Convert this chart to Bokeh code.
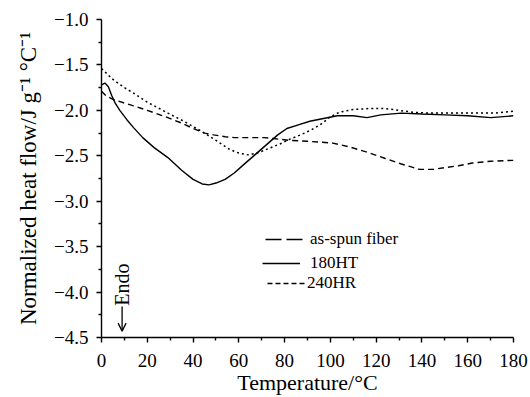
import math
from bokeh.plotting import figure
from bokeh.models import (Range1d, FixedTicker, CustomJSTickFormatter, Label,
                          Legend, LegendItem, Arrow, OpenHead)
from bokeh.embed import file_html
from bokeh.resources import INLINE

# ---- data ----
t_solid = [0, 1.5, 3, 4.5, 6, 8, 11, 14, 18, 23, 29, 35, 40, 44, 47, 50, 54, 58, 62,
           67, 72, 77, 81, 86, 91, 97, 103, 110, 116, 122, 131, 140, 150, 160, 170, 180]
v_solid = [-1.72, -1.70, -1.74, -1.84, -1.92, -2.00, -2.10, -2.19, -2.30, -2.41,
           -2.52, -2.66, -2.76, -2.81, -2.82, -2.80, -2.76, -2.69, -2.60, -2.49, -2.38,
           -2.27, -2.20, -2.16, -2.12, -2.09, -2.06, -2.06, -2.08, -2.05, -2.03,
           -2.04, -2.05, -2.06, -2.08, -2.06]

t_dash = [0, 2, 5, 10, 14, 20, 29, 35, 40, 45, 49, 54, 58, 65, 71, 75, 82, 90,
          101, 108, 116, 124, 131, 135, 139, 145, 150, 156, 162, 170, 180]
v_dash = [-1.79, -1.84, -1.88, -1.92, -1.95, -2.00, -2.08, -2.14, -2.20, -2.25,
          -2.27, -2.29, -2.30, -2.30, -2.30, -2.31, -2.33, -2.34, -2.36, -2.40,
          -2.46, -2.53, -2.59, -2.62, -2.65, -2.65, -2.63, -2.61, -2.58, -2.56, -2.55]

t_dot = [0, 5, 10, 14, 20, 29, 36, 43, 50, 56, 60, 64, 68, 73, 78, 82, 87, 92,
         96, 100, 104, 110, 117, 124, 130, 136, 142, 150, 162, 172, 180]
v_dot = [-1.54, -1.66, -1.75, -1.81, -1.91, -2.03, -2.12, -2.22, -2.33, -2.43,
         -2.47, -2.49, -2.47, -2.42, -2.37, -2.32, -2.27, -2.21, -2.15, -2.07,
         -2.02, -1.99, -1.98, -1.98, -2.00, -2.02, -2.03, -2.03, -2.03, -2.03, -2.01]

x_ticks = [0, 20, 40, 60, 80, 100, 120, 140, 160, 180]
x_minor = [10, 30, 50, 70, 90, 110, 130, 150, 170]
y_ticks = [-4.5, -4.0, -3.5, -3.0, -2.5, -2.0, -1.5, -1.0]
y_minor = [-4.25, -3.75, -3.25, -2.75, -2.25, -1.75, -1.25]

legend_labels = ["as-spun fiber", "180HT", "240HR"]
x_title = "Temperature/\u00b0C"
y_title = "Normalized heat flow/J g\u207b\u00b9 \u00b0C\u207b\u00b9"

FONT = "Liberation Serif"

p = figure(width=530, height=397, output_backend="svg", toolbar_location=None,
           x_range=Range1d(0, 180), y_range=Range1d(-4.5, -1.0),
           min_border_left=101, min_border_right=17, min_border_top=19,
           min_border_bottom=59)
p.outline_line_color = None
p.grid.visible = False
p.background_fill_color = "white"
p.border_fill_color = "white"

p.xaxis.ticker = FixedTicker(ticks=x_ticks, minor_ticks=x_minor)
p.yaxis.ticker = FixedTicker(ticks=y_ticks, minor_ticks=y_minor)
p.xaxis.formatter = CustomJSTickFormatter(code="return tick.toFixed(0);")
p.yaxis.formatter = CustomJSTickFormatter(code="return tick.toFixed(1).replace('-', '\u2212');")

for ax in (p.xaxis, p.yaxis):
    ax.axis_line_color = "black"
    ax.axis_line_width = 1.4
    ax.major_tick_line_color = "black"
    ax.minor_tick_line_color = "black"
    ax.major_tick_line_width = 1.4
    ax.minor_tick_line_width = 1.4
    ax.major_tick_in = 0
    ax.major_tick_out = 5
    ax.minor_tick_in = 0
    ax.minor_tick_out = 3
    ax.major_label_text_font = FONT
    ax.major_label_text_font_size = "19px"
    ax.major_label_text_color = "black"
    ax.axis_label_text_font = FONT
    ax.axis_label_text_font_style = "normal"
    ax.axis_label_text_color = "black"

p.xaxis.axis_label = x_title
p.xaxis.axis_label_text_font_size = "22px"
p.xaxis.major_label_standoff = 11
p.xaxis.axis_label_standoff = 0

p.yaxis.axis_label = y_title
p.yaxis.axis_label_text_font_size = "23px"
p.yaxis.major_label_standoff = 8
p.yaxis.axis_label_standoff = 10

r_dash = p.line(t_dash, v_dash, line_color="black", line_width=1.4, line_dash="6 4")
r_solid = p.line(t_solid, v_solid, line_color="black", line_width=1.4)
r_dot = p.line(t_dot, v_dot, line_color="black", line_width=1.5, line_dash="2 3")

# legend sample renderers (carry no visible data)
nan = float("nan")
lg_a = p.line([nan], [nan], line_color="black", line_width=1.4, line_dash="16 5")
lg_b = p.line([nan], [nan], line_color="black", line_width=1.4)
lg_c = p.line([nan], [nan], line_color="black", line_width=1.4, line_dash="5 3")

def make_legend(label, rend, loc, standoff):
    lg = Legend(items=[LegendItem(label=label, renderers=[rend])], location=loc,
                border_line_color=None, background_fill_alpha=0, padding=0, margin=0,
                glyph_width=38, glyph_height=10, label_height=10, spacing=0,
                label_standoff=standoff, label_text_font=FONT,
                label_text_font_size="17px", label_text_color="black")
    p.add_layout(lg, "center")

make_legend(legend_labels[0], lg_a, (164, 88), 7)
make_legend(legend_labels[1], lg_b, (161, 64), 10)
make_legend(legend_labels[2], lg_c, (166, 44), 2)

p.add_layout(Label(x=9.0, y=-4.15, text="Endo", angle=math.pi / 2,
                   text_align="left", text_baseline="middle", text_font=FONT,
                   text_font_size="20px", text_color="black"))
p.add_layout(Arrow(x_start=9.0, y_start=-4.16, x_end=9.0, y_end=-4.43,
                   line_color="black", line_width=1.3,
                   end=OpenHead(size=8, line_color="black", line_width=1.3)))

open("out.html", "w").write(file_html(p, INLINE))
